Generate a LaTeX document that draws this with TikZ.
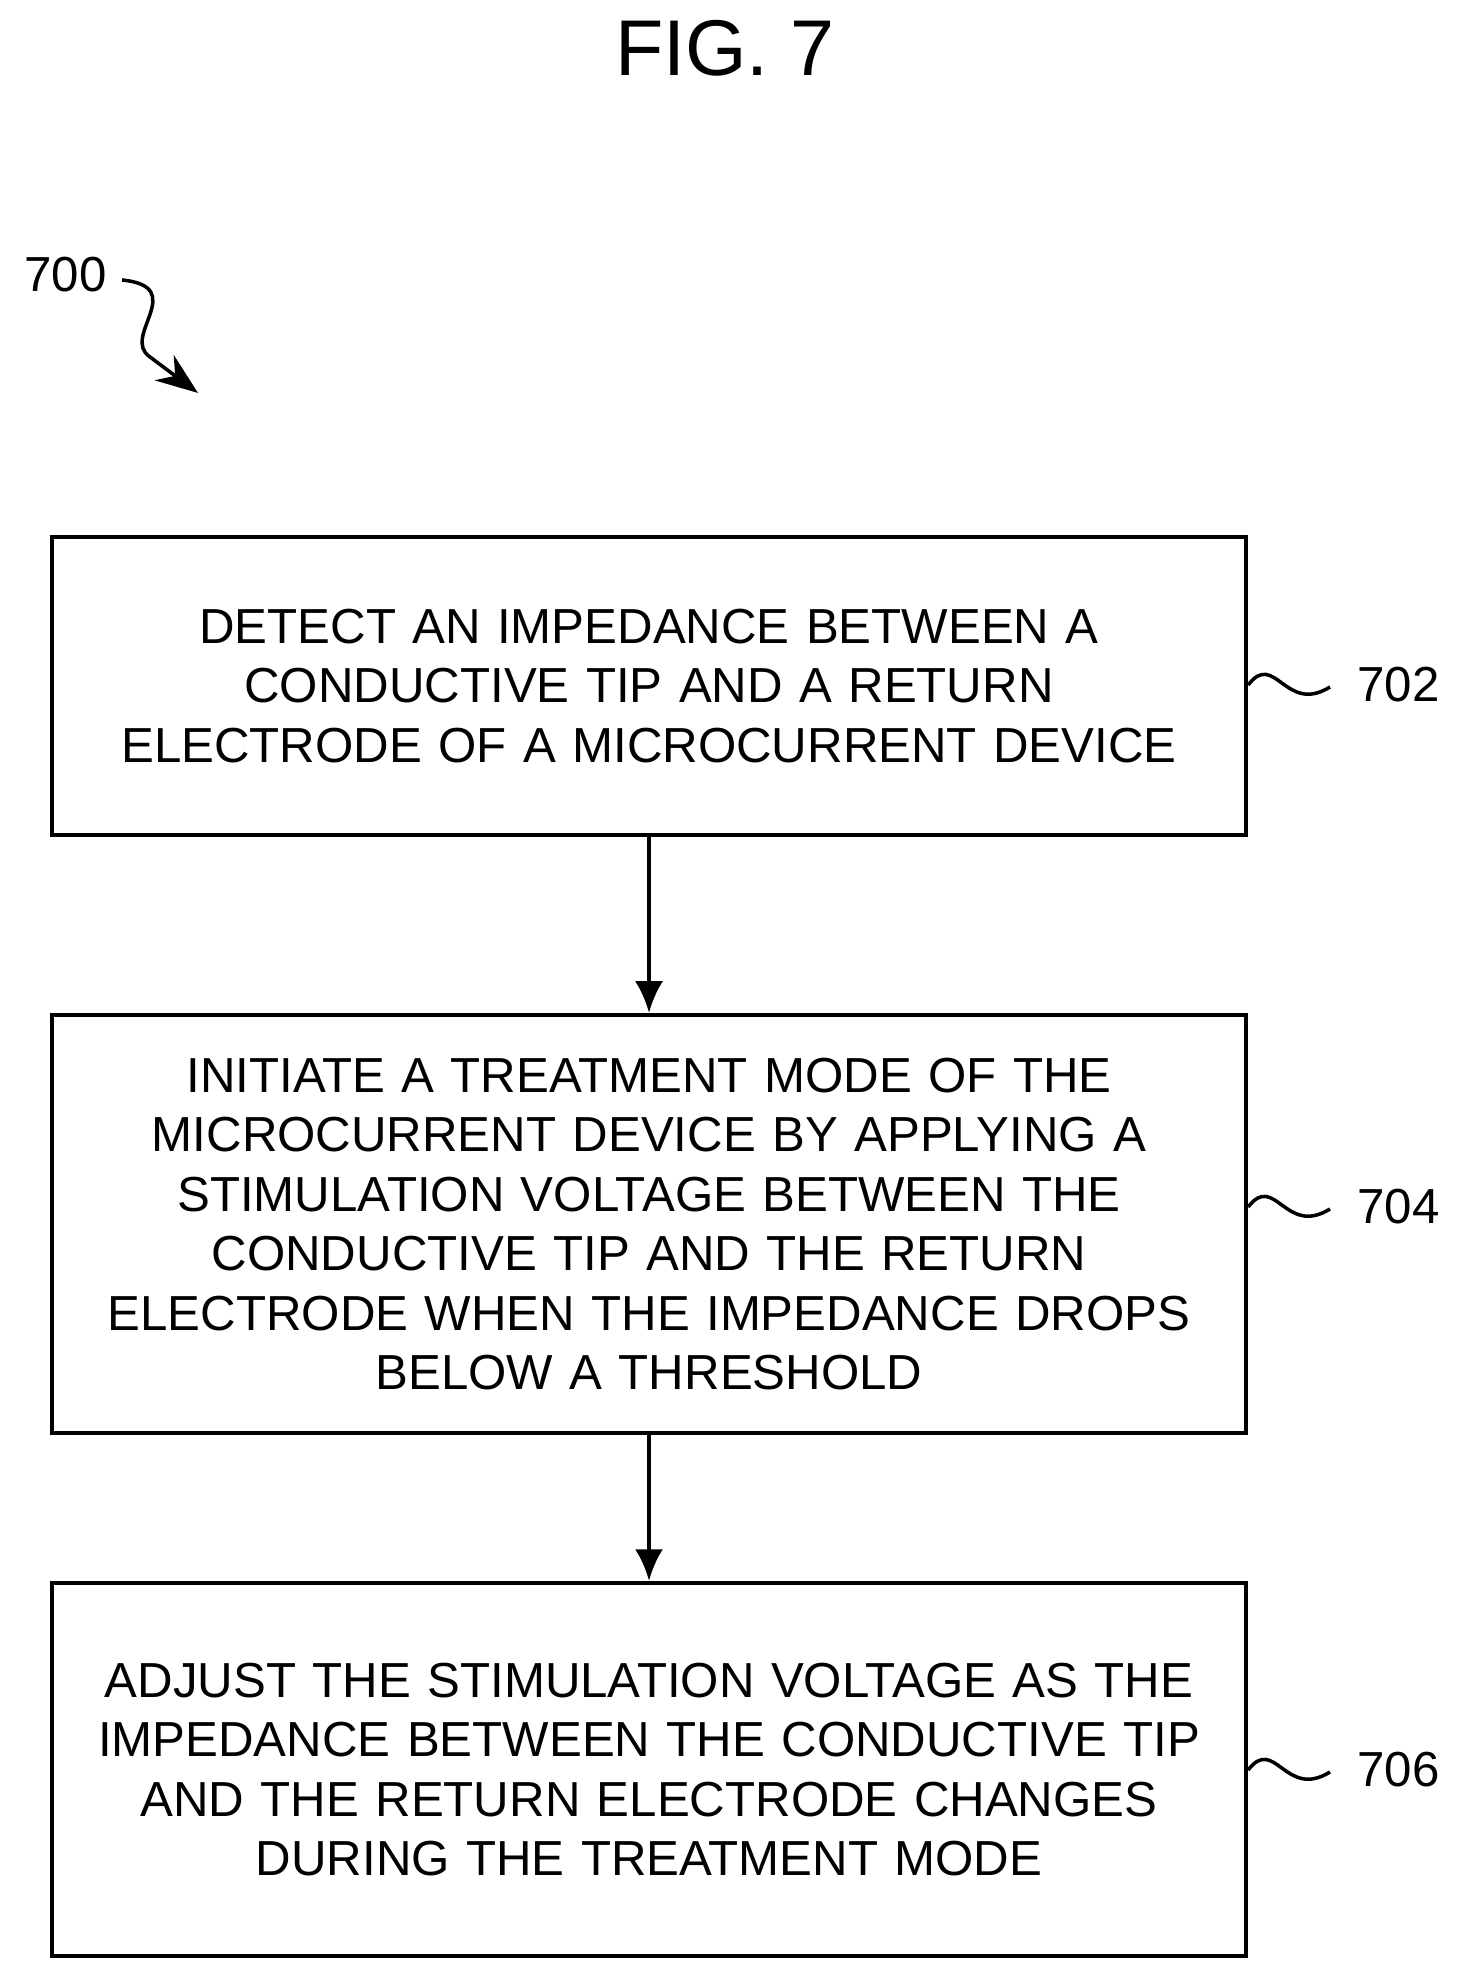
\documentclass[tikz,border=0pt]{standalone}
\usepackage{fontspec}
\setmainfont{Liberation Sans}
\usetikzlibrary{arrows.meta}
\tikzset{
  flowstep/.style={draw, line width=1.2pt, minimum width=11.94cm, text width=11.2cm, align=center,
    font=\fontsize{14pt}{16.9pt}\selectfont},
  flow/.style={-{Latex[length=9pt,width=8pt]}, line width=1.2pt},
  tag/.style={font=\fontsize{14pt}{16pt}\selectfont, anchor=west}
}
\begin{document}
\begin{tikzpicture}
    \useasboundingbox (0,0) rectangle (14.63,19.87);
    \node[font=\fontsize{22.5pt}{24pt}\selectfont] (title) at (7.25, 19.39) {FIG. 7};
    \node[tag] (fig) at (0.12, 17.12) {700};
    \coordinate (figtip) at (1.98, 15.94);
    \draw[line width=1pt, -{Stealth[length=12pt,width=9pt]}] (1.22, 17.07) .. controls (1.9, 17.0) and (1.2, 16.5) .. (1.5, 16.3) -- (figtip);
    \node[flowstep, minimum height=2.98cm] (detect) at (6.49, 13.01) {DETECT AN IMPEDANCE BETWEEN A\\CONDUCTIVE TIP AND A RETURN\\ELECTRODE OF A MICROCURRENT DEVICE};
    \node[flowstep, minimum height=4.18cm] (initiate) at (6.49, 7.63) {INITIATE A TREATMENT MODE OF THE\\MICROCURRENT DEVICE BY APPLYING A\\STIMULATION VOLTAGE BETWEEN THE\\CONDUCTIVE TIP AND THE RETURN\\ELECTRODE WHEN THE IMPEDANCE DROPS\\BELOW A THRESHOLD};
    \node[flowstep, minimum height=3.73cm] (adjust) at (6.49, 2.175) {ADJUST THE STIMULATION VOLTAGE AS THE\\IMPEDANCE BETWEEN THE CONDUCTIVE TIP\\AND THE RETURN ELECTRODE CHANGES\\DURING THE TREATMENT MODE};
    \draw[flow] (detect) -- (initiate);
    \draw[flow] (initiate) -- (adjust);
    % reference numerals
    \foreach \stp/\num/\yy in {detect/702/13.02, initiate/704/7.80, adjust/706/2.17} {
        \node[tag] (n\num) at (13.45, \yy) {\num};
        \draw[line width=1pt] (\stp.east |- 0,\yy) .. controls (12.75, \yy+0.35) and (12.85, \yy-0.3) .. (13.30, \yy-0.02);
    }
\end{tikzpicture}
\end{document}
